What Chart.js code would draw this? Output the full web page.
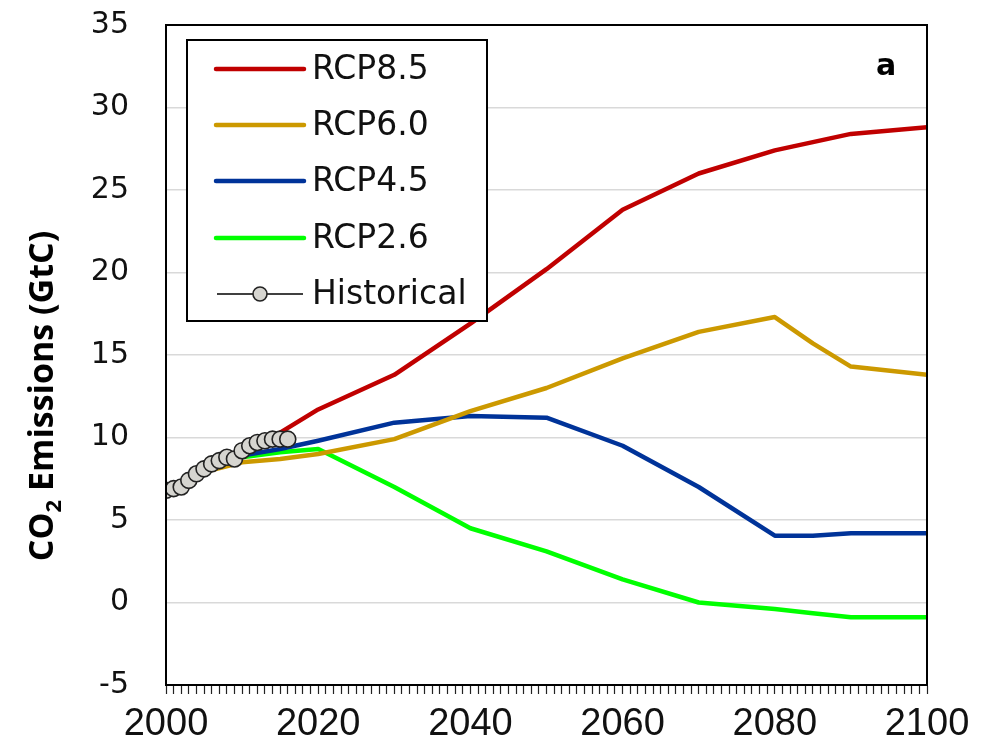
<!DOCTYPE html>
<html><head><meta charset="utf-8">
<script src="https://cdn.jsdelivr.net/npm/chart.js@4/dist/chart.umd.min.js"></script>
<style>html,body{margin:0;padding:0;background:#fff}#wrap{width:997px;height:751px;position:relative}</style>
</head><body><div id="wrap"><canvas id="c"></canvas></div>
<script>
// ---- data ----
const rcpYears = [2000,2005,2010,2015,2020,2030,2040,2050,2060,2070,2080,2085,2090,2100];
const rcp85 = [6.8,7.9,8.9,10.3,11.7,13.8,16.9,20.2,23.8,26.0,27.4,27.9,28.4,28.8];
const rcp60 = [6.8,7.9,8.5,8.7,9.0,9.9,11.6,13.0,14.8,16.4,17.3,15.7,14.3,13.8];
const rcp45 = [6.8,7.9,8.9,9.3,9.8,10.9,11.3,11.2,9.5,7.0,4.05,4.05,4.2,4.2];
const rcp26 = [6.8,7.9,8.8,9.1,9.3,7.0,4.5,3.1,1.4,0.0,-0.4,-0.65,-0.9,-0.9];
const histYears = [2000,2001,2002,2003,2004,2005,2006,2007,2008,2009,2010,2011,2012,2013,2014,2015,2016];
const histValues = [6.8,6.9,7.0,7.4,7.8,8.1,8.4,8.6,8.8,8.7,9.2,9.5,9.7,9.8,9.9,9.9,9.9];
const xTickLabels = [2000,2020,2040,2060,2080,2100];
const yTickValues = [-5,0,5,10,15,20,25,30,35];
const seriesNames = ['RCP8.5','RCP6.0','RCP4.5','RCP2.6','Historical'];
const seriesColors = ['#c00000','#cc9900','#003399','#00ff00','#000000'];

const pts = (xs, ys) => xs.map((x,i)=>({x:x,y:ys[i]}));
const rcpSets = [rcp85, rcp60, rcp45, rcp26];

const datasets = [{
  label: seriesNames[4], data: pts(histYears, histValues), order: 0,
  borderColor: '#000', borderWidth: 1.5, pointRadius: 8, pointBorderWidth: 1.6,
  pointBackgroundColor: '#d6d5d0', pointBorderColor: '#222', tension: 0
}];
rcpSets.forEach((vals, i) => {
  datasets.push({
    label: seriesNames[i], data: pts(rcpYears, vals), order: i + 1,
    borderColor: seriesColors[i], borderWidth: 4.5, pointRadius: 0, tension: 0,
    borderCapStyle: 'butt', borderJoinStyle: 'round'
  });
});

const decorPlugin = {
  id: 'decor',
  afterDatasetsDraw(chart) {
    const ctx = chart.ctx, a = chart.chartArea;
    ctx.save();
    // plot border
    ctx.strokeStyle = '#000'; ctx.lineWidth = 2;
    ctx.strokeRect(a.left, a.top, a.right - a.left, a.bottom - a.top);
    // panel letter
    ctx.fillStyle = '#000';
    ctx.font = 'bold 30px "DejaVu Sans"';
    ctx.textAlign = 'center'; ctx.textBaseline = 'alphabetic';
    ctx.fillText('a', 886, 75);
    // legend box
    const lx = 187, ly = 40, lw = 300, lh = 281;
    ctx.fillStyle = '#fff'; ctx.fillRect(lx, ly, lw, lh);
    ctx.strokeStyle = '#000'; ctx.lineWidth = 2; ctx.strokeRect(lx, ly, lw, lh);
    const rows = [69, 125, 181, 238, 294];
    ctx.font = '33px "DejaVu Sans"'; ctx.textAlign = 'left'; ctx.textBaseline = 'middle';
    for (let i = 0; i < 5; i++) {
      const y = rows[i];
      const ds = chart.data.datasets.find(d => d.label === seriesNames[i]);
      if (i < 4) {
        ctx.strokeStyle = ds.borderColor; ctx.lineWidth = 4.5; ctx.lineCap = 'round';
        ctx.beginPath(); ctx.moveTo(216, y); ctx.lineTo(304, y); ctx.stroke();
      } else {
        ctx.strokeStyle = '#000'; ctx.lineWidth = 1.5; ctx.lineCap = 'butt';
        ctx.beginPath(); ctx.moveTo(217, y); ctx.lineTo(303, y); ctx.stroke();
        ctx.beginPath(); ctx.arc(260, y, 7, 0, Math.PI * 2);
        ctx.fillStyle = ds.pointBackgroundColor; ctx.fill();
        ctx.lineWidth = 1.6; ctx.strokeStyle = '#222'; ctx.stroke();
      }
      ctx.fillStyle = '#111';
      ctx.fillText(seriesNames[i], 312, y + 1);
    }
    // y axis title with subscript
    ctx.translate(53, 396); ctx.rotate(-Math.PI / 2);
    ctx.fillStyle = '#000'; ctx.textBaseline = 'alphabetic'; ctx.textAlign = 'left';
    const big = 'bold 34px "Open Sans"', small = 'bold 22px "Open Sans"';
    ctx.font = big; const w1 = ctx.measureText('CO').width;
    ctx.font = small; const w2 = ctx.measureText('2').width;
    ctx.font = big; const w3 = ctx.measureText(' Emissions (GtC)').width;
    let x0 = -(w1 + w2 + w3) / 2;
    ctx.font = big; ctx.fillText('CO', x0, 0);
    ctx.font = small; ctx.fillText('2', x0 + w1, 8);
    ctx.font = big; ctx.fillText(' Emissions (GtC)', x0 + w1 + w2, 0);
    ctx.restore();
  }
};

new Chart(document.getElementById('c'), {
  type: 'line',
  data: { datasets },
  options: {
    responsive: true, maintainAspectRatio: false, animation: false,
    layout: { padding: { top: 25, right: 70, left: 0, bottom: 0 } },
    plugins: { legend: { display: false }, tooltip: { enabled: false } },
    scales: {
      x: {
        type: 'linear', min: 2000, max: 2100,
        border: { display: true, color: '#000', width: 2 },
        grid: { drawOnChartArea: false, drawTicks: true, tickLength: 9, color: '#222', tickWidth: 1.2 },
        ticks: {
          stepSize: 1, autoSkip: false, maxRotation: 0, padding: 8, color: '#111',
          font: { family: '"Liberation Sans"', size: 38 },
          callback: v => xTickLabels.includes(v) ? String(v) : ''
        },
        afterFit: s => { s.height = 66; s.paddingLeft = 0; s.paddingRight = 0; }
      },
      y: {
        min: -5, max: 35,
        border: { display: true, color: '#000', width: 2 },
        grid: { color: '#d9d9d9', lineWidth: 1.5, drawTicks: false },
        ticks: {
          stepSize: 5, padding: 37, color: '#111',
          font: { family: '"DejaVu Sans"', size: 30 },
          callback: v => yTickValues.includes(v) ? String(v) : ''
        },
        afterFit: s => { s.width = 166; s.paddingTop = 0; s.paddingBottom = 0; }
      }
    }
  },
  plugins: [decorPlugin]
});
</script></body></html>
